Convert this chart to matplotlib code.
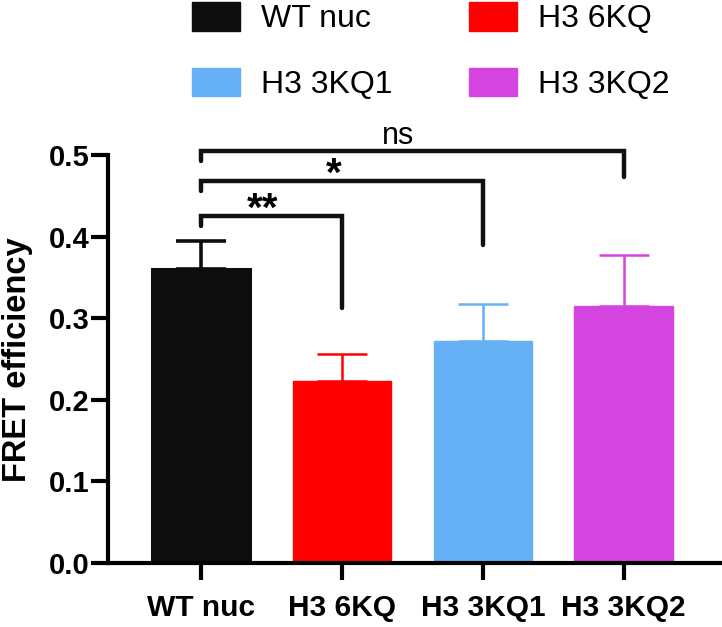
import numpy as np
import matplotlib
matplotlib.use("Agg")
import matplotlib.pyplot as plt
from matplotlib.patches import Patch

plt.rcParams['font.family'] = ['Liberation Sans', 'DejaVu Sans']

# data
groups = ["WT nuc", "H3 6KQ", "H3 3KQ1", "H3 3KQ2"]
means = [0.360, 0.223, 0.272, 0.315]
errs = [0.035, 0.033, 0.045, 0.062]
colors = ["#0d0d0d", "#ff0000", "#66b0f5", "#d445e0"]

# significance brackets: (left group, right group, bar height, right arm end, label)
brackets = [(0, 1, 0.425, 0.312, "**"),
            (0, 2, 0.468, 0.390, "*"),
            (0, 3, 0.505, 0.473, "ns")]
left_drop = 0.012

fig = plt.figure(figsize=(7.22, 6.27), dpi=100)
ax = fig.add_axes([108/722, 1 - 563/627, 613/722, 408/627])

x = np.arange(len(groups))
for i in range(len(groups)):
    lw = 2.2 if i == 0 else 1.0
    ax.bar(x[i], means[i], width=0.7, color=colors[i], edgecolor=colors[i],
           linewidth=lw, zorder=2)
    ax.errorbar(x[i], means[i], yerr=[[0], [errs[i]]], fmt='none',
                ecolor=colors[i], elinewidth=lw + 0.4 if i == 0 else 1.8,
                capsize=18, capthick=lw + 0.4 if i == 0 else 1.8, zorder=1)

# brackets
for a, b, h, rend, lab in brackets:
    ax.plot([a, a, b, b], [h - left_drop, h, h, rend], color="#111111",
            lw=3.2, solid_capstyle='round', solid_joinstyle='miter', clip_on=False)
    if lab == "ns":
        ax.text((a + b) / 2 - 0.1, h + 0.009, lab, ha='center', va='baseline',
                fontsize=22, clip_on=False)
    else:
        ax.text((a + b) / 2 - 0.06, h - 0.006, lab, ha='center', va='baseline',
                fontsize=29, fontweight='bold', clip_on=False)

ax.set_xlim(-0.66, 3.69)
ax.set_ylim(0, 0.5)
ax.set_yticks([0, 0.1, 0.2, 0.3, 0.4, 0.5])
ax.set_yticklabels(["0.0", "0.1", "0.2", "0.3", "0.4", "0.5"])
ax.set_xticks(x)
ax.set_xticklabels(groups)
for lab in ax.get_xticklabels() + ax.get_yticklabels():
    lab.set_fontweight('bold')
ax.tick_params(axis='x', length=12, width=3, labelsize=21.5, pad=10)
ax.tick_params(axis='y', length=12, width=3, labelsize=21, pad=1)

for s in ['top', 'right']:
    ax.spines[s].set_visible(False)
for s in ['left', 'bottom']:
    ax.spines[s].set_linewidth(3)

fig.text(18/722, 1 - 360/627, "FRET efficiency", rotation=90, ha='center',
         va='center', fontsize=23.5, fontweight='bold')

handles = [Patch(facecolor=colors[i], edgecolor=colors[i]) for i in [0, 2, 1, 3]]
labels = [groups[i] for i in [0, 2, 1, 3]]
fig.legend(handles, labels, ncol=2, loc='upper left',
           bbox_to_anchor=(192/722, 1 - 2/627), frameon=False, fontsize=23,
           handlelength=1.5, handleheight=1.0, handletextpad=0.65,
           columnspacing=2.4, labelspacing=1.05, borderpad=0, borderaxespad=0)

fig.savefig("out.png", dpi=100)
